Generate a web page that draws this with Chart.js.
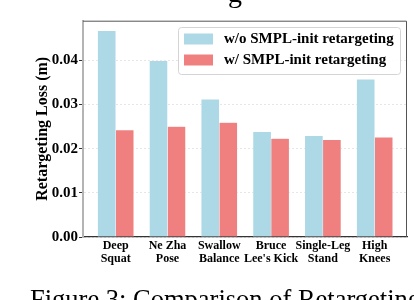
<!DOCTYPE html>
<html><head><meta charset="utf-8">
<script src="https://cdn.jsdelivr.net/npm/chart.js@4/dist/chart.umd.min.js"></script>
<style>html,body{margin:0;padding:0;background:#fff;} #wrap{width:414px;height:300px;}</style>
</head><body><div id="wrap"><canvas id="c" width="414" height="300"></canvas></div>
<script>
const categories = ['Deep Squat','Ne Zha Pose','Swallow Balance',"Bruce Lee's Kick",'Single-Leg Stand','High Knees'];
const tickLabels = [['Deep','Squat'],['Ne Zha','Pose'],['Swallow','Balance'],['Bruce',"Lee's Kick"],['Single-Leg','Stand'],['High','Knees']];
const seriesNames = ['w/o SMPL-init retargeting','w/ SMPL-init retargeting'];
const withoutInit = [0.0467,0.0399,0.0312,0.0238,0.0229,0.0357];
const withInit = [0.0242,0.0250,0.0259,0.0223,0.0220,0.0226];
const yTicks = [0,0.01,0.02,0.03,0.04];
const yTitle = 'Retargeting Loss (m)';
const caption = 'Figure 3: Comparison of Retargeting';

const SERIF = '"Liberation Serif", "Times New Roman", serif';
Chart.defaults.font.family = SERIF;
Chart.defaults.color = '#000';

const framePlugin = {
  id: 'frame',
  afterDatasetsDraw(chart) {
    const {ctx, chartArea: a} = chart;
    ctx.save();
    ctx.strokeStyle = '#555';
    ctx.lineWidth = 1;
    ctx.beginPath();
    ctx.moveTo(a.left, a.top + 0.5);
    ctx.lineTo(a.right - 0.5, a.top + 0.5);
    ctx.lineTo(a.right - 0.5, a.bottom);
    ctx.stroke();
    ctx.restore();
  },
  afterDraw(chart) {
    const ctx = chart.ctx;
    ctx.save();
    // legend box
    const x0 = 178.5, y0 = 27.5, w = 222, h = 47, r = 3;
    ctx.beginPath();
    ctx.moveTo(x0 + r, y0);
    ctx.lineTo(x0 + w - r, y0); ctx.arcTo(x0 + w, y0, x0 + w, y0 + r, r);
    ctx.lineTo(x0 + w, y0 + h - r); ctx.arcTo(x0 + w, y0 + h, x0 + w - r, y0 + h, r);
    ctx.lineTo(x0 + r, y0 + h); ctx.arcTo(x0, y0 + h, x0, y0 + h - r, r);
    ctx.lineTo(x0, y0 + r); ctx.arcTo(x0, y0, x0 + r, y0, r);
    ctx.closePath();
    ctx.fillStyle = 'rgba(255,255,255,0.85)';
    ctx.fill();
    ctx.strokeStyle = '#d4d4d4';
    ctx.lineWidth = 1;
    ctx.stroke();
    chart.data.datasets.forEach((ds, i) => {
      const cy = 39 + i * 21;
      ctx.fillStyle = ds.backgroundColor;
      ctx.fillRect(184, cy - 5.5, 29, 11);
      ctx.fillStyle = '#000';
      ctx.font = 'bold 15px ' + SERIF;
      ctx.textBaseline = 'middle';
      ctx.textAlign = 'left';
      ctx.fillText(ds.label, 224, cy + 0.5);
    });
    // caption (cropped at bottom) and stray glyph from text above
    ctx.font = '26.5px ' + SERIF;
    ctx.textBaseline = 'alphabetic';
    ctx.fillStyle = '#000';
    ctx.fillText(caption, 30, 307.5);
    ctx.font = '28px ' + SERIF;
    ctx.fillText('g', 228, 1.5);
    ctx.restore();
  }
};

new Chart(document.getElementById('c'), {
  type: 'bar',
  data: {
    datasets: [
      { label: seriesNames[0], data: withoutInit.map((v, i) => ({x: i, y: v})), backgroundColor: '#ADD8E6', borderColor: 'rgba(255,255,255,0.5)', borderWidth: 0.5 },
      { label: seriesNames[1], data: withInit.map((v, i) => ({x: i, y: v})), backgroundColor: '#F08080', borderColor: 'rgba(255,255,255,0.5)', borderWidth: 0.5 }
    ]
  },
  options: {
    responsive: false,
    animation: false,
    barThickness: 18,
    layout: { padding: { left: 0, right: 7, top: 20.7, bottom: 0 } },
    plugins: { legend: { display: false }, tooltip: { enabled: false } },
    scales: {
      x: {
        type: 'linear',
        min: -0.631, max: 5.624,
        offset: false,
        afterFit: s => { s.height = 63; },
        grid: { display: true, drawOnChartArea: false, drawTicks: false },
        border: { display: true, color: '#333', width: 1.2 },
        ticks: {
          stepSize: 1, includeBounds: false, autoSkip: false, maxRotation: 0, minRotation: 0,
          padding: 3,
          font: { size: 12, weight: 'bold', lineHeight: 1.05 },
          color: '#000',
          callback: v => Number.isInteger(v) && tickLabels[v] ? tickLabels[v] : ''
        }
      },
      y: {
        min: 0, max: 0.049,
        afterFit: s => { s.width = 83; },
        afterBuildTicks: s => { s.ticks = yTicks.map(v => ({value: v})); },
        grid: { color: '#e6e6e6', lineWidth: 1, tickColor: '#333', tickLength: 4, tickBorderDash: [] },
        border: { display: true, color: '#b4b4b4', width: 2, dash: [2, 2] },
        ticks: { padding: 1, font: { size: 15, weight: 'bold' }, color: '#000', callback: v => v.toFixed(2) },
        title: { display: true, text: yTitle, font: { size: 16, weight: 'bold' }, color: '#000', padding: { top: 33.4, bottom: 0 } }
      }
    }
  },
  plugins: [framePlugin]
});
</script>
</body></html>
